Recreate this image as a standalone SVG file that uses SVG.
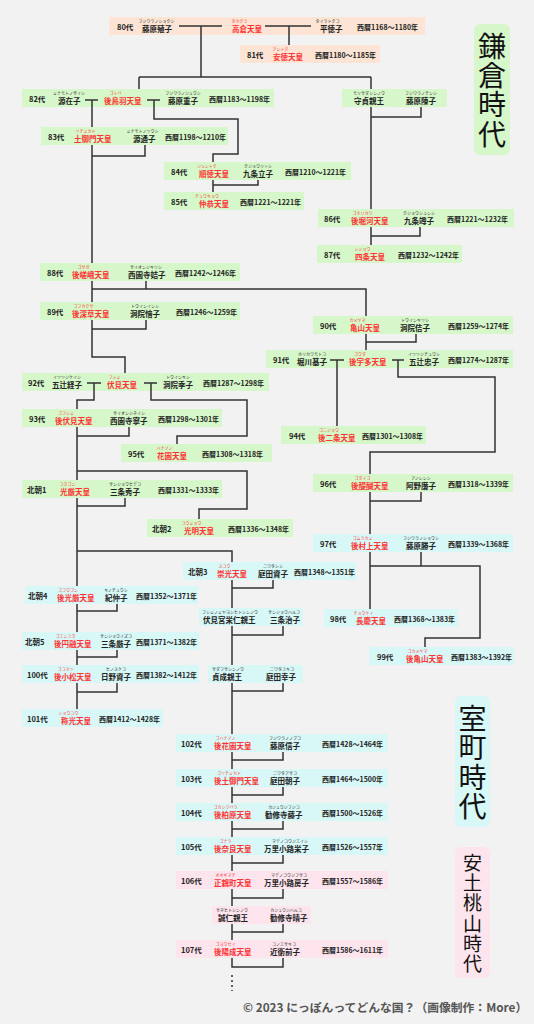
<svg xmlns="http://www.w3.org/2000/svg" width="534" height="1024" viewBox="0 0 534 1024">
<style>
text{font-family:"Noto Sans CJK JP","Noto Sans",sans-serif}
.g{fill:#d6f7c9}.p{fill:#fde4d4}.c{fill:#d8f7f7}.k{fill:#fde4ed}
.lb{font-size:7.5px;font-weight:bold;fill:#222}
.nm{font-size:7.5px;font-weight:bold;fill:#222}
.rd{font-size:7.5px;font-weight:bold;fill:#ff3333}
.ru{font-size:4px;fill:#222;text-anchor:middle}
.rr{font-size:4px;fill:#ff3333;text-anchor:middle}
.dt{font-size:7px;font-weight:bold;fill:#222}
.ln{fill:none;stroke:#333;stroke-width:1.5}
.dot{fill:none;stroke:#333;stroke-width:1.5;stroke-dasharray:2 3}
.era{font-size:28px;fill:#111;writing-mode:vertical-rl;letter-spacing:1.3px}
.era2{font-size:19px;fill:#111;writing-mode:vertical-rl;letter-spacing:1.1px}
.cp{font-size:11.8px;font-weight:bold;fill:#555}
</style>
<rect width="534" height="1024" fill="#f2f2f2"/>
<g id="era-kamakura"><rect class="g" x="474" y="24" width="36" height="131" rx="6"/><text class="era" x="492" y="32">鎌倉時代</text></g>
<g id="era-muromachi"><rect class="c" x="455" y="696" width="35" height="131" rx="6"/><text class="era" x="472.5" y="704.5">室町時代</text></g>
<g id="era-azuchi"><rect class="k" x="455" y="847" width="35" height="131" rx="6"/><text class="era2" x="472.5" y="853.5">安土桃山時代</text></g>

<g id="n80"><rect class="p" x="109" y="17" width="316" height="18"/><text class="lb" x="117" y="30">80代</text><text class="ru" x="156.5" y="23">フジワラノショクシ</text><text class="nm" x="142" y="31.5">藤原殖子</text><text class="rr" x="239.5" y="23">タカクラ</text><text class="rd" x="232" y="31.5">高倉天皇</text><text class="ru" x="327.5" y="23">タイラトクコ</text><text class="nm" x="320" y="31.5">平徳子</text><text class="dt" x="357" y="29.5">西暦1168～1180年</text></g>
<g id="n81"><rect class="p" x="240" y="45" width="140" height="18"/><text class="lb" x="247" y="58">81代</text><text class="rr" x="280.5" y="51">アントク</text><text class="rd" x="273" y="59.5">安徳天皇</text><text class="dt" x="315" y="57.5">西暦1180～1185年</text></g>
<g id="n82"><rect class="g" x="22" y="89" width="252" height="18"/><text class="lb" x="29" y="102">82代</text><text class="ru" x="69" y="95">ミナモトノザイシ</text><text class="nm" x="58" y="103.5">源在子</text><text class="rr" x="115.5" y="95">ゴトバ</text><text class="rd" x="104" y="103.5">後鳥羽天皇</text><text class="ru" x="183" y="95">フジワラノジュウシ</text><text class="nm" x="168" y="103.5">藤原重子</text><text class="dt" x="209" y="101.5">西暦1183～1198年</text></g>
<g id="morisada"><rect class="g" x="342" y="89" width="105" height="18"/><text class="ru" x="369" y="95">モリサダシンノウ</text><text class="nm" x="354" y="103.5">守貞親王</text><text class="ru" x="421" y="95">フジワラノチンシ</text><text class="nm" x="406" y="103.5">藤原陳子</text></g>
<g id="n83"><rect class="g" x="41" y="127" width="187" height="18"/><text class="lb" x="48" y="140">83代</text><text class="rr" x="85.5" y="133">ツチミカド</text><text class="rd" x="74" y="141.5">土御門天皇</text><text class="ru" x="142.5" y="133">ミナモトノツウシ</text><text class="nm" x="133" y="141.5">源通子</text><text class="dt" x="165" y="139.5">西暦1198～1210年</text></g>
<g id="n84"><rect class="g" x="164" y="162" width="187" height="18"/><text class="lb" x="171" y="175">84代</text><text class="rr" x="207" y="168">ジュントク</text><text class="rd" x="199" y="176.5">順徳天皇</text><text class="ru" x="258" y="168">クジョウリッシ</text><text class="nm" x="243" y="176.5">九条立子</text><text class="dt" x="285" y="174.5">西暦1210～1221年</text></g>
<g id="n85"><rect class="g" x="164" y="192" width="140" height="18"/><text class="lb" x="171" y="205">85代</text><text class="rr" x="207" y="198">チュウキョウ</text><text class="rd" x="199" y="206.5">仲恭天皇</text><text class="dt" x="240" y="204.5">西暦1221～1221年</text></g>
<g id="n86"><rect class="g" x="318" y="209" width="196" height="18"/><text class="lb" x="324" y="222">86代</text><text class="rr" x="362.5" y="215">ゴホリカワ</text><text class="rd" x="351" y="223.5">後堀河天皇</text><text class="ru" x="419" y="215">クジョウシュンシ</text><text class="nm" x="404" y="223.5">九条竴子</text><text class="dt" x="447" y="221.5">西暦1221～1232年</text></g>
<g id="n87"><rect class="g" x="317" y="245" width="145" height="18"/><text class="lb" x="324" y="258">87代</text><text class="rr" x="362.5" y="251">シジョウ</text><text class="rd" x="355" y="259.5">四条天皇</text><text class="dt" x="398" y="257.5">西暦1232～1242年</text></g>
<g id="n88"><rect class="g" x="40" y="263" width="200" height="18"/><text class="lb" x="47" y="276">88代</text><text class="rr" x="83.5" y="269">ゴサガ</text><text class="rd" x="72" y="277.5">後嵯峨天皇</text><text class="ru" x="146" y="269">サイオンジキツシ</text><text class="nm" x="128" y="277.5">西園寺姞子</text><text class="dt" x="175" y="275.5">西暦1242～1246年</text></g>
<g id="n89"><rect class="g" x="40" y="302" width="200" height="18"/><text class="lb" x="47" y="315">89代</text><text class="rr" x="83.5" y="308">ゴフカクサ</text><text class="rd" x="72" y="316.5">後深草天皇</text><text class="ru" x="145" y="308">トウインインシ</text><text class="nm" x="130" y="316.5">洞院愔子</text><text class="dt" x="176" y="314.5">西暦1246～1259年</text></g>
<g id="n90"><rect class="g" x="313" y="316" width="200" height="18"/><text class="lb" x="320" y="329">90代</text><text class="rr" x="357.5" y="322">カメヤマ</text><text class="rd" x="350" y="330.5">亀山天皇</text><text class="ru" x="415" y="322">トウインキツシ</text><text class="nm" x="400" y="330.5">洞院佶子</text><text class="dt" x="448" y="328.5">西暦1259～1274年</text></g>
<g id="n91"><rect class="g" x="266" y="350" width="247" height="18"/><text class="lb" x="273" y="363">91代</text><text class="ru" x="312" y="356">ホリカワモトコ</text><text class="nm" x="297" y="364.5">堀川基子</text><text class="rr" x="360" y="356">ゴウダ</text><text class="rd" x="349" y="364.5">後宇多天皇</text><text class="ru" x="424" y="356">イツツジチュウシ</text><text class="nm" x="409" y="364.5">五辻忠子</text><text class="dt" x="448" y="362.5">西暦1274～1287年</text></g>
<g id="n92"><rect class="g" x="22" y="373" width="247" height="18"/><text class="lb" x="28" y="386">92代</text><text class="ru" x="67" y="379">イツツジケイシ</text><text class="nm" x="52" y="387.5">五辻経子</text><text class="rr" x="114.5" y="379">フシミ</text><text class="rd" x="107" y="387.5">伏見天皇</text><text class="ru" x="178" y="379">トウインキシ</text><text class="nm" x="163" y="387.5">洞院季子</text><text class="dt" x="203" y="385.5">西暦1287～1298年</text></g>
<g id="n93"><rect class="g" x="22" y="409" width="200" height="18"/><text class="lb" x="29" y="422">93代</text><text class="rr" x="66" y="415">ゴフシミ</text><text class="rd" x="55" y="423.5">後伏見天皇</text><text class="ru" x="129" y="415">サイオンジネイシ</text><text class="nm" x="110" y="423.5">西園寺寧子</text><text class="dt" x="158" y="421.5">西暦1298～1301年</text></g>
<g id="n94"><rect class="g" x="281" y="426" width="145" height="18"/><text class="lb" x="289" y="439">94代</text><text class="rr" x="329" y="432">ゴニジョウ</text><text class="rd" x="318" y="440.5">後二条天皇</text><text class="dt" x="362" y="438.5">西暦1301～1308年</text></g>
<g id="n95"><rect class="g" x="121" y="444" width="151" height="18"/><text class="lb" x="128" y="457">95代</text><text class="rr" x="164.5" y="450">ハナゾノ</text><text class="rd" x="157" y="458.5">花園天皇</text><text class="dt" x="202" y="456.5">西暦1308～1318年</text></g>
<g id="n96"><rect class="g" x="313" y="474" width="200" height="18"/><text class="lb" x="320" y="487">96代</text><text class="rr" x="362.5" y="480">ゴダイゴ</text><text class="rd" x="351" y="488.5">後醍醐天皇</text><text class="ru" x="421" y="480">アノレンシ</text><text class="nm" x="406" y="488.5">阿野廉子</text><text class="dt" x="448" y="486.5">西暦1318～1339年</text></g>
<g id="hokucho1"><rect class="g" x="22" y="480" width="200" height="18"/><text class="lb" x="27" y="493">北朝1</text><text class="rr" x="67.5" y="486">コウゴン</text><text class="rd" x="60" y="494.5">光厳天皇</text><text class="ru" x="125" y="486">サンジョウヒデコ</text><text class="nm" x="110" y="494.5">三条秀子</text><text class="dt" x="158" y="492.5">西暦1331～1333年</text></g>
<g id="hokucho2"><rect class="g" x="147" y="519" width="146" height="18"/><text class="lb" x="152" y="532">北朝2</text><text class="rr" x="191.5" y="525">コウミョウ</text><text class="rd" x="184" y="533.5">光明天皇</text><text class="dt" x="228" y="531.5">西暦1336～1348年</text></g>
<g id="n97"><rect class="c" x="313" y="534" width="200" height="18"/><text class="lb" x="320" y="547">97代</text><text class="rr" x="362.5" y="540">ゴムラカミ</text><text class="rd" x="351" y="548.5">後村上天皇</text><text class="ru" x="421" y="540">フジワラノショウシ</text><text class="nm" x="406" y="548.5">藤原勝子</text><text class="dt" x="448" y="546.5">西暦1339～1368年</text></g>
<g id="hokucho3"><rect class="c" x="183" y="562" width="173" height="18"/><text class="lb" x="188" y="575">北朝3</text><text class="rr" x="224.5" y="568">スコウ</text><text class="rd" x="217" y="576.5">崇光天皇</text><text class="ru" x="273" y="568">ニワタシシ</text><text class="nm" x="258" y="576.5">庭田資子</text><text class="dt" x="294" y="574.5">西暦1348～1351年</text></g>
<g id="hokucho4"><rect class="c" x="25" y="586" width="173" height="18"/><text class="lb" x="28" y="599">北朝4</text><text class="rr" x="68" y="592">ゴコウゴン</text><text class="rd" x="57" y="600.5">後光厳天皇</text><text class="ru" x="116" y="592">キノチュウシ</text><text class="nm" x="105" y="600.5">紀仲子</text><text class="dt" x="136" y="598.5">西暦1352～1371年</text></g>
<g id="fushiminomiya"><rect class="c" x="199" y="608" width="104" height="18"/><text class="ru" x="230" y="614">フシミノミヤヨシヒトシンノウ</text><text class="nm" x="203" y="622.5">伏見宮栄仁親王</text><text class="ru" x="284" y="614">サンジョウハルコ</text><text class="nm" x="270" y="622.5">三条治子</text></g>
<g id="n98"><rect class="c" x="324" y="609" width="134" height="18"/><text class="lb" x="330" y="622">98代</text><text class="rr" x="363.5" y="615">チョウケイ</text><text class="rd" x="356" y="623.5">長慶天皇</text><text class="dt" x="394" y="621.5">西暦1368～1383年</text></g>
<g id="hokucho5"><rect class="c" x="22" y="632" width="177" height="18"/><text class="lb" x="25" y="645">北朝5</text><text class="rr" x="65.5" y="638">ゴエンユウ</text><text class="rd" x="54" y="646.5">後円融天皇</text><text class="ru" x="116" y="638">サンジョウイズコ</text><text class="nm" x="101" y="646.5">三条厳子</text><text class="dt" x="136" y="644.5">西暦1371～1382年</text></g>
<g id="n99"><rect class="c" x="369" y="647" width="145" height="18"/><text class="lb" x="377" y="660">99代</text><text class="rr" x="417.5" y="653">ゴカメヤマ</text><text class="rd" x="406" y="661.5">後亀山天皇</text><text class="dt" x="451" y="659.5">西暦1383～1392年</text></g>
<g id="n100"><rect class="c" x="22" y="665" width="177" height="18"/><text class="lb" x="27" y="678">100代</text><text class="rr" x="65.5" y="671">ゴコマツ</text><text class="rd" x="54" y="679.5">後小松天皇</text><text class="ru" x="116" y="671">ヒノスケコ</text><text class="nm" x="101" y="679.5">日野資子</text><text class="dt" x="136" y="677.5">西暦1382～1412年</text></g>
<g id="sadafusa"><rect class="c" x="208" y="665" width="95" height="18"/><text class="ru" x="228" y="671">サダフサシンノウ</text><text class="nm" x="212" y="679.5">貞成親王</text><text class="ru" x="282" y="671">ニワタユキコ</text><text class="nm" x="266" y="679.5">庭田幸子</text></g>
<g id="n101"><rect class="c" x="22" y="709" width="141" height="18"/><text class="lb" x="27" y="722">101代</text><text class="rr" x="68.5" y="715">ショウコウ</text><text class="rd" x="61" y="723.5">称光天皇</text><text class="dt" x="99" y="721.5">西暦1412～1428年</text></g>
<g id="n102"><rect class="c" x="176" y="734" width="212" height="18"/><text class="lb" x="181" y="747">102代</text><text class="rr" x="225.5" y="740">ゴハナゾノ</text><text class="rd" x="214" y="748.5">後花園天皇</text><text class="ru" x="285" y="740">フジワラノノブコ</text><text class="nm" x="270" y="748.5">藤原信子</text><text class="dt" x="322" y="746.5">西暦1428～1464年</text></g>
<g id="n103"><rect class="c" x="176" y="769" width="212" height="18"/><text class="lb" x="181" y="782">103代</text><text class="rr" x="229" y="775">ゴツチミカド</text><text class="rd" x="214" y="783.5">後土御門天皇</text><text class="ru" x="285" y="775">ニワタアサコ</text><text class="nm" x="270" y="783.5">庭田朝子</text><text class="dt" x="322" y="781.5">西暦1464～1500年</text></g>
<g id="n104"><rect class="c" x="176" y="803" width="212" height="18"/><text class="lb" x="181" y="816">104代</text><text class="rr" x="225.5" y="809">ゴカシワバラ</text><text class="rd" x="214" y="817.5">後柏原天皇</text><text class="ru" x="284" y="809">カジュウジフジコ</text><text class="nm" x="265" y="817.5">勧修寺藤子</text><text class="dt" x="322" y="815.5">西暦1500～1526年</text></g>
<g id="n105"><rect class="c" x="176" y="837" width="212" height="18"/><text class="lb" x="181" y="850">105代</text><text class="rr" x="225.5" y="843">ゴナラ</text><text class="rd" x="214" y="851.5">後奈良天皇</text><text class="ru" x="290" y="843">マデノコウジエイシ</text><text class="nm" x="264" y="851.5">万里小路栄子</text><text class="dt" x="322" y="849.5">西暦1526～1557年</text></g>
<g id="n106"><rect class="k" x="176" y="871" width="212" height="18"/><text class="lb" x="181" y="884">106代</text><text class="rr" x="225.5" y="877">オオギマチ</text><text class="rd" x="214" y="885.5">正親町天皇</text><text class="ru" x="289" y="877">マデノコウジフサコ</text><text class="nm" x="264" y="885.5">万里小路房子</text><text class="dt" x="322" y="883.5">西暦1557～1586年</text></g>
<g id="sanehito"><rect class="k" x="212" y="906" width="99" height="18"/><text class="ru" x="232" y="912">サネヒトシンノウ</text><text class="nm" x="218" y="920.5">誠仁親王</text><text class="ru" x="286" y="912">カジュウジハルコ</text><text class="nm" x="270" y="920.5">勧修寺晴子</text></g>
<g id="n107"><rect class="k" x="176" y="940" width="212" height="18"/><text class="lb" x="181" y="953">107代</text><text class="rr" x="225.5" y="946">ゴヨウゼイ</text><text class="rd" x="214" y="954.5">後陽成天皇</text><text class="ru" x="284" y="946">コノエサキコ</text><text class="nm" x="270" y="954.5">近衛前子</text><text class="dt" x="322" y="952.5">西暦1586～1611年</text></g>

<g id="connectors">
<path class="ln" d="M179,26H222 M265,26H311 M289,26V45 M201,26V77 M139,77H371 M139,77V89 M371,77V89
M85,100H98 M92,100V127 M147,100H160 M154,100V119H238V154H213V162
M371,107V209 M421,107V117H371
M92,145V263 M145,145V156H92
M213,180V192 M258,180V185H213
M371,227V245 M420,227V236H371
M92,281V302 M146,281V289 M92,289H366V316
M92,320V357H125V373 M146,320V329H92
M366,334V350 M416,334V342H366
M87,383H101 M94,383V400H77V409 M144,383H157 M151,383V400H247V436H177V444
M330,360H344 M337,360V426 M392,360H404 M398,360V377H495V452H370V474
M77,427V480 M129,427V436H77 M77,471H247V509H199V519
M370,492V534 M421,492V501H370
M77,498V586 M125,498V506H77 M77,551H232V562
M370,552V609 M421,552V566 M370,566H480V638H425V647
M232,580V608 M273,580V588H232
M77,604V632 M117,604V611H77
M232,626V665 M283,626V635H232
M77,650V665 M117,650V657H77
M77,683V709 M117,683V692H77
M232,683V734 M283,683V691H232
M232,752V769 M283,752V760H232
M232,787V803 M283,787V795H232
M232,821V837 M283,821V829H232
M232,855V871 M283,855V863H232
M232,889V906 M283,889V898H232
M232,924V940 M283,924V932H232
M232,958V967H283V958"/>
<path class="dot" d="M232,975V991"/>
</g>
<text class="cp" x="243" y="1012">© 2023 にっぽんってどんな国？（画像制作：More）</text>
</svg>
